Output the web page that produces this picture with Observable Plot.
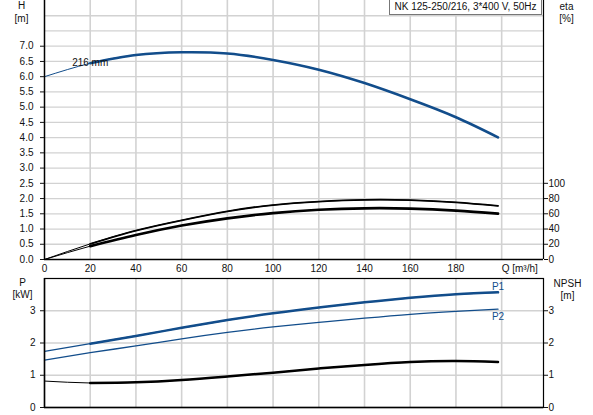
<!DOCTYPE html>
<html><head><meta charset="utf-8">
<script src="https://cdn.jsdelivr.net/npm/d3@7"></script>
<script src="https://cdn.jsdelivr.net/npm/@observablehq/plot@0.6"></script>
<style>
body{margin:0;background:#fff}
#wrap{position:relative;width:593px;height:415px;font-family:"Liberation Sans",Arial,sans-serif}
#wrap svg{display:block}
#title{position:absolute;z-index:2;left:389px;top:0;width:151px;height:14px;border:1px solid #777;border-top:none;background:#fff;font-size:10px;line-height:14px;text-align:center;color:#111;white-space:nowrap}
</style></head><body>
<div id="wrap"><div id="title">NK 125-250/216, 3*400 V, 50Hz</div></div>
<script>
// flow Q [m³/h]
const Q      = [0, 20, 40, 60, 80, 100, 120, 140, 160, 180, 198.4];
// head H [m]
const H      = [6.00, 6.44, 6.71, 6.80, 6.76, 6.55, 6.23, 5.79, 5.26, 4.67, 4.01];
// efficiencies [%]
const ETA_P  = [0, 20.5, 38.0, 51.5, 63.2, 71.5, 76.0, 78.3, 77.9, 75.0, 70.4];
const ETA_T  = [0, 17.5, 32.1, 44.6, 54.1, 61.0, 65.3, 67.2, 66.8, 64.2, 60.3];
// power [kW]
const P1     = [1.74, 1.98, 2.22, 2.47, 2.71, 2.92, 3.10, 3.26, 3.40, 3.51, 3.57];
const P2     = [1.47, 1.70, 1.91, 2.13, 2.33, 2.50, 2.64, 2.77, 2.89, 2.98, 3.05];
// NPSH [m]
const NPSH   = [0.82, 0.76, 0.78, 0.85, 0.96, 1.08, 1.21, 1.32, 1.41, 1.44, 1.41];

const qTicks   = [0, 20, 40, 60, 80, 100, 120, 140, 160, 180];
const qGrid    = [20, 40, 60, 80, 100, 120, 140, 160, 180, 200];
const hTicks   = [0, 0.5, 1, 1.5, 2, 2.5, 3, 3.5, 4, 4.5, 5, 5.5, 6, 6.5, 7];
const hGrid    = [0.5, 1, 1.5, 2, 2.5, 3, 3.5, 4, 4.5, 5, 5.5, 6, 6.5, 7, 7.5, 8];
const etaTicks = [0, 20, 40, 60, 80, 100];
const pTicks   = [0, 1, 2, 3];
const pGrid    = [1, 2, 3];

const Q_MAX = 218.3, H_MAX = 8.5, P_MAX = 4, ETA_PER_M = 40;
const blue = "#124d8b", gridC = "#d2d2d2", ink = "#111";
const curve = "natural";
const font = '"Liberation Sans", Arial, sans-serif';

const topRows = Q.map((q, i) => ({q, h: H[i], e1: ETA_P[i] / ETA_PER_M, e2: ETA_T[i] / ETA_PER_M}));
const topThick = topRows.filter(d => d.q >= 20);
const botRows = Q.map((q, i) => ({q, p1: P1[i], p2: P2[i], n: NPSH[i]}));
const botThick = botRows.filter(d => d.q >= 20);
const lastRow = botRows[botRows.length - 1];

const lbl = (s, anchor, dx, dy) => Plot.text([s], {frameAnchor: anchor, dx, dy, textAnchor: "middle", lineAnchor: "middle", text: d => d, fill: ink});

const chartTop = Plot.plot({
  width: 593, height: 275,
  marginLeft: 44, marginRight: 50, marginTop: 0, marginBottom: 16,
  style: {fontFamily: font, fontSize: "10px", background: "#fff", color: ink, overflow: "visible"},
  x: {domain: [0, Q_MAX]},
  y: {domain: [0, H_MAX]},
  marks: [
    Plot.gridY(hGrid, {stroke: gridC, strokeOpacity: 1, strokeWidth: 1.3}),
    Plot.gridX(qGrid, {stroke: gridC, strokeOpacity: 1, strokeWidth: 1.6}),
    Plot.line(topRows, {x: "q", y: "e1", stroke: "#000", strokeWidth: 1, curve}),
    Plot.line(topRows, {x: "q", y: "e2", stroke: "#000", strokeWidth: 1, curve}),
    Plot.line(topThick, {x: "q", y: "e1", stroke: "#000", strokeWidth: 1.8, curve}),
    Plot.line(topThick, {x: "q", y: "e2", stroke: "#000", strokeWidth: 2.7, curve}),
    Plot.line(topRows, {x: "q", y: "h", stroke: blue, strokeWidth: 1, curve}),
    Plot.line(topThick, {x: "q", y: "h", stroke: blue, strokeWidth: 2.6, curve}),
    Plot.text([topRows[1]], {x: "q", y: "h", text: () => "216 mm", fill: ink, fontSize: 10}),
    Plot.ruleY([0], {stroke: "#000", strokeWidth: 1.5}),
    Plot.ruleX([0], {stroke: "#000", strokeWidth: 1.5}),
    Plot.ruleX([Q_MAX], {stroke: "#000", strokeWidth: 1.2}),
    Plot.axisY(hTicks, {anchor: "left", tickFormat: d => d.toFixed(1), tickSize: 4, tickPadding: 7, label: null, fill: ink}),
    Plot.axisY(etaTicks.map(v => v / ETA_PER_M), {anchor: "right", tickFormat: d => String(Math.round(d * ETA_PER_M)), tickSize: 4, tickPadding: 1, label: null, fill: ink}),
    Plot.axisX(qTicks, {anchor: "bottom", tickSize: 0, tickPadding: 5, label: null, fill: ink}),
    Plot.text([200], {x: d => d, frameAnchor: "bottom", textAnchor: "start", lineAnchor: "top", dy: 5, dx: 0, text: () => "Q [m³/h]", fill: ink}),
    lbl("H", "top-left", -23, 5),
    lbl("[m]", "top-left", -23, 18),
    lbl("eta", "top-right", 23, 6),
    lbl("[%]", "top-right", 23, 18)
  ]
});

const chartBot = Plot.plot({
  width: 593, height: 140,
  marginLeft: 44, marginRight: 50, marginTop: 3, marginBottom: 8,
  style: {fontFamily: font, fontSize: "10px", background: "#fff", color: ink, overflow: "visible"},
  x: {domain: [0, Q_MAX], axis: null},
  y: {domain: [0, P_MAX], axis: null},
  marks: [
    Plot.gridY(pGrid, {stroke: gridC, strokeOpacity: 1, strokeWidth: 1.3}),
    Plot.gridX(qGrid, {stroke: gridC, strokeOpacity: 1, strokeWidth: 1.6}),
    Plot.line(botRows, {x: "q", y: "n", stroke: "#000", strokeWidth: 1, curve}),
    Plot.line(botThick, {x: "q", y: "n", stroke: "#000", strokeWidth: 2.5, curve}),
    Plot.line(botRows, {x: "q", y: "p2", stroke: blue, strokeWidth: 1.3, curve}),
    Plot.line(botRows, {x: "q", y: "p1", stroke: blue, strokeWidth: 1.1, curve}),
    Plot.line(botThick, {x: "q", y: "p1", stroke: blue, strokeWidth: 2.5, curve}),
    Plot.text([lastRow], {x: "q", y: "p1", dy: -6, text: () => "P1", fill: blue}),
    Plot.text([lastRow], {x: "q", y: "p2", dy: 8, text: () => "P2", fill: blue}),
    Plot.frame({stroke: "#000", strokeWidth: 1.2}),
    Plot.ruleY([0], {stroke: "#000", strokeWidth: 1.5}),
    Plot.ruleX([0], {stroke: "#000", strokeWidth: 1.5}),
    Plot.axisY(pTicks, {anchor: "left", tickSize: 4, tickPadding: 5, label: null, fill: ink}),
    Plot.axisY(pTicks, {anchor: "right", tickSize: 4, tickPadding: 1, label: null, fill: ink}),
    lbl("P", "top-left", -22, 4),
    lbl("[kW]", "top-left", -22, 16),
    lbl("NPSH", "top-right", 24, 5),
    lbl("[m]", "top-right", 24, 17)
  ]
});

const wrap = document.getElementById("wrap");
wrap.appendChild(chartTop);
wrap.appendChild(chartBot);
</script>
</body></html>
